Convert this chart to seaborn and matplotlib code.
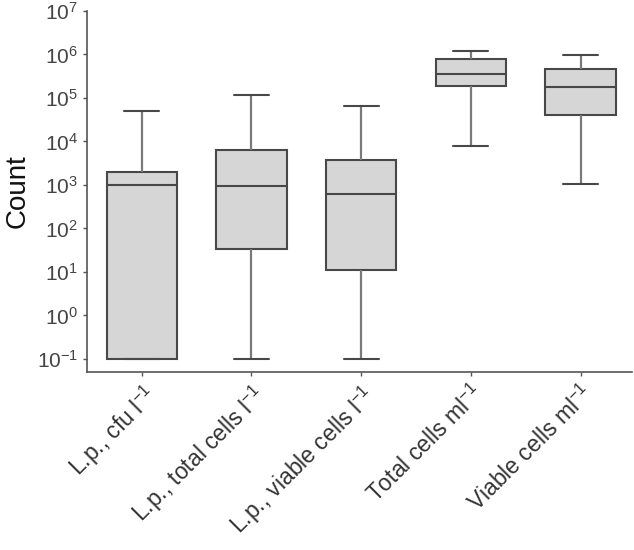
import numpy as np
import pandas as pd
import matplotlib
matplotlib.use('Agg')
import matplotlib.pyplot as plt
import seaborn as sns

# summary values (per category)
categories = ['L.p., cfu l$^{-1}$', 'L.p., total cells l$^{-1}$',
              'L.p., viable cells l$^{-1}$', 'Total cells ml$^{-1}$',
              'Viable cells ml$^{-1}$']
whisker_low = [0.1, 0.1, 0.1, 7.7e3, 1.05e3]
q1 = [0.1, 34, 11, 1.9e5, 4.0e4]
median = [1.0e3, 950, 630, 3.6e5, 1.8e5]
q3 = [2.0e3, 6.5e3, 3.8e3, 8.0e5, 4.6e5]
whisker_high = [5.0e4, 1.2e5, 6.6e4, 1.23e6, 9.5e5]

# five points per group -> quartiles land exactly on the read values
rows = []
for i, c in enumerate(categories):
    for v in [whisker_low[i], q1[i], median[i], q3[i], whisker_high[i]]:
        rows.append({'group': c, 'count': v})
df = pd.DataFrame(rows)

sns.set_style('ticks')
plt.rcParams['font.family'] = ['Liberation Sans', 'DejaVu Sans']
plt.rcParams['mathtext.fontset'] = 'custom'
plt.rcParams['mathtext.rm'] = 'Liberation Sans'
plt.rcParams['mathtext.it'] = 'Liberation Sans:italic'

fig = plt.figure(figsize=(6.34, 5.5), dpi=100)
ax = fig.add_axes([0.137, 0.3236, 0.86, 0.6564])

edge = '#484848'
sns.boxplot(data=df, x='group', y='count', ax=ax, log_scale=True,
            whis=np.inf, width=0.64, color='#d6d6d6', linecolor=edge,
            linewidth=1.5, saturation=1,
            whiskerprops=dict(color='#7a7a7a', linewidth=1.6))

ax.set_ylim(10 ** -1.3, 1e7)
ax.set_xlim(-0.5, 4.47)
ax.set_yticks([10.0 ** k for k in range(-1, 8)])
ax.set_yticklabels(['10$^{%d}$' % k for k in range(-1, 8)], fontsize=15, color='#444444')
ax.minorticks_off()
ax.tick_params(axis='y', which='minor', left=False)
ax.tick_params(axis='both', length=3, width=1, color='#555555')
ax.set_xticks(range(len(categories)))
ax.set_xticklabels(categories, rotation=45, ha='right', rotation_mode='anchor',
                   fontsize=16.5, color='#333333')
ax.set_xlabel('')
ax.set_ylabel('Count', fontsize=20, color='#111111', labelpad=4)

sns.despine(ax=ax)
for s in ['left', 'bottom']:
    ax.spines[s].set_color('#555555')
    ax.spines[s].set_linewidth(1.2)

fig.savefig('out.png', dpi=100)
